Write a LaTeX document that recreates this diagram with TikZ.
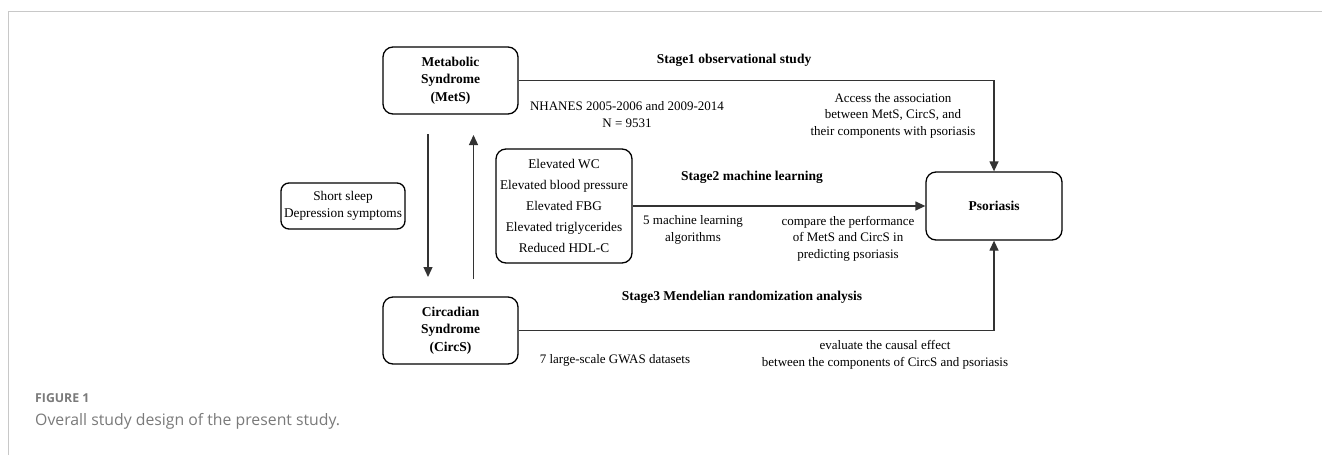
\documentclass[tikz,border=0pt]{standalone}
\usepackage{fontspec}
\setmainfont{Liberation Serif}
\newfontfamily\capfont{Open Sans}
\usetikzlibrary{arrows.meta}
\definecolor{linec}{HTML}{333333}
\definecolor{framec}{HTML}{C8C8C8}
\definecolor{capc}{HTML}{7A7A7A}
\tikzset{
  box/.style={draw=black, line width=1.3pt, rounded corners=10pt, align=center, inner sep=2pt},
  conn/.style={draw=linec, line width=1.3pt, -{Triangle[length=10pt,width=9pt]}},
  lbl/.style={align=center, inner sep=0pt, font=\fontsize{13}{16.5}\selectfont},
  blbl/.style={align=center, inner sep=0pt, font=\fontsize{13.5}{17.5}\selectfont\bfseries},
}
\begin{document}
\begin{tikzpicture}[x=1pt,y=-1pt]
\useasboundingbox (0,0) rectangle (1322,455);
\fill[white] (0,0) rectangle (1322,455);
% frame
\draw[framec, line width=1.2pt] (8.5,455) -- (8.5,11.5) -- (1322,11.5);
% nodes
\node[box, minimum width=135pt, minimum height=67pt, font=\fontsize{13.5}{17.5}\selectfont\bfseries] (mets) at (450.5,80.5) {Metabolic\\Syndrome\\(MetS)};
\node[box, minimum width=135pt, minimum height=67pt, font=\fontsize{13.5}{17.5}\selectfont\bfseries] (circs) at (450.5,330.5) {Circadian\\Syndrome\\(CircS)};
\node[box, rounded corners=8pt, minimum width=124pt, minimum height=46pt, font=\fontsize{13.3}{17}\selectfont] (short) at (343,206) {Short sleep\\Depression symptoms};
\node[box, minimum width=136pt, minimum height=114pt, font=\fontsize{13.3}{21.2}\selectfont] (comp) at (564,206) {Elevated WC\\Elevated blood pressure\\Elevated FBG\\Elevated triglycerides\\Reduced HDL-C};
\node[box, minimum width=136pt, minimum height=68pt, font=\fontsize{13.5}{17.5}\selectfont\bfseries] (pso) at (994,206) {Psoriasis};
% free arrows between MetS and CircS
\coordinate (d1) at (428,134);
\coordinate (d2) at (428,277);
\coordinate (u1) at (473.5,279);
\coordinate (u2) at (473.5,135);
\draw[conn] (d1) -- (d2);
\draw[conn] (u1) -- (u2);
% connectors
\draw[conn] (mets.east) -| (pso.north);
\draw[conn] (comp.east) -- (pso.west);
\draw[conn] (circs.east) -| (pso.south);
% labels
\node[blbl] (s1) at (734,60) {Stage1 observational study};
\node[lbl] (nh) at (627,114.5) {NHANES 2005-2006 and 2009-2014\\N = 9531};
\node[lbl] (acc) at (893,115.5) {Access the association\\between MetS, CircS, and\\their components with psoriasis};
\node[blbl] (s2) at (752,177) {Stage2 machine learning};
\node[lbl] (ml) at (693,230) {5 machine learning\\algorithms};
\node[lbl] (cmp) at (848,238.5) {compare the performance\\of MetS and CircS in\\predicting psoriasis};
\node[blbl] (s3) at (742,297) {Stage3 Mendelian randomization analysis};
\node[lbl] (gw) at (615,360) {7 large-scale GWAS datasets};
\node[lbl] (ev) at (885,355) {evaluate the causal effect\\between the components of CircS and psoriasis};
% caption
\node[anchor=west, inner sep=0pt, text=capc, font=\capfont\fontsize{12.3}{14}\selectfont\bfseries] (fig) at (35,398) {FIGURE 1};
\node[anchor=west, inner sep=0pt, text=capc, font=\capfont\fontsize{15.8}{18}\selectfont] (cap) at (35,421) {Overall study design of the present study.};
\end{tikzpicture}
\end{document}
